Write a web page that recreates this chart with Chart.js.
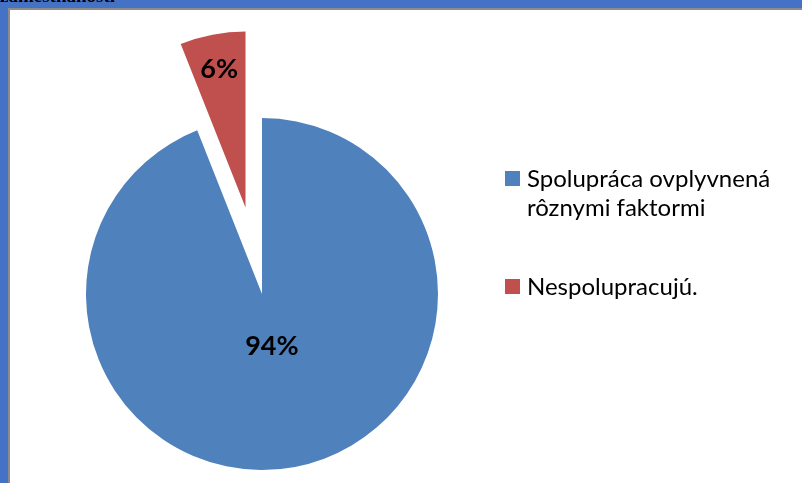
<!DOCTYPE html>
<html>
<head>
<meta charset="utf-8">
<script src="https://cdn.jsdelivr.net/npm/chart.js@4/dist/chart.umd.min.js"></script>
<style>
html,body{margin:0;padding:0;width:802px;height:483px;overflow:hidden;background:#fff;}
#top{position:absolute;left:0;top:-15px;font:bold 19px "Liberation Serif",serif;color:#000;white-space:nowrap;z-index:3;}
#wrap{position:absolute;left:0;top:0;width:802px;height:483px;z-index:2;}
#legend{position:absolute;left:505px;top:163px;z-index:4;font:24px Lato,"Open Sans",sans-serif;color:#000;}
#legend .item{position:relative;padding-left:22px;line-height:29px;margin-bottom:50px;white-space:nowrap;}
#legend .box{position:absolute;left:0;top:8px;width:15px;height:15px;}
</style>
</head>
<body>
<div id="top">zamestnanosti</div>
<div style="position:absolute;left:0;top:0;width:802px;height:483px;background:#4472C4;"></div>
<div style="position:absolute;left:8px;top:8px;width:794px;height:475px;background:#8c8c8c;"></div>
<div style="position:absolute;left:10px;top:10px;width:792px;height:473px;background:#fff;"></div>
<div id="wrap"><canvas id="pie"></canvas></div>
<div id="legend"></div>
<script>
/* ================= DATA ================= */
const labels=["Spolupráca ovplyvnená rôznymi faktormi","Nespolupracujú."];
const legendLines=[["Spolupráca ovplyvnená","rôznymi faktormi"],["Nespolupracujú."]];
const values=[94,6];
const colors=["#4F81BD","#C0504D"];
const explode=[0,88];          // px the slice is pulled out
const labelRadius=[0.30,0.8];  // label distance as part of radius

/* ================= EXPLODE + LABELS ================= */
// v4 "offset" also grows the arc, so pull the slice out by moving its centre
const explodePlugin={
id:"explode",
afterDatasetsUpdate(chart){
const meta=chart.getDatasetMeta(0);
meta.data.forEach((arc,i)=>{
const mid=(arc.startAngle+arc.endAngle)/2;
arc.x+=Math.cos(mid)*explode[i];
arc.y+=Math.sin(mid)*explode[i];
});
},
afterDatasetsDraw(chart){
const ctx=chart.ctx;
const meta=chart.getDatasetMeta(0);
const total=values.reduce((s,v)=>s+v,0);
ctx.save();
ctx.font="bold 27px Lato, 'Open Sans', sans-serif";
ctx.fillStyle="#000";
ctx.textAlign="center";
ctx.textBaseline="middle";
meta.data.forEach((arc,i)=>{
const mid=(arc.startAngle+arc.endAngle)/2;
const r=arc.outerRadius*labelRadius[i];
ctx.fillText(Math.round(values[i]/total*100)+"%",arc.x+Math.cos(mid)*r,arc.y+Math.sin(mid)*r);
});
ctx.restore();
}
};

/* ================= CHART ================= */
new Chart(document.getElementById("pie"),{
type:"pie",
data:{
labels,
datasets:[{
data:values,
backgroundColor:colors,
borderWidth:0,
clip:false
}]
},
options:{
responsive:true,
maintainAspectRatio:false,
animation:false,
layout:{padding:{left:86,top:118,right:364,bottom:13}},
plugins:{legend:{display:false},tooltip:{enabled:false}}
},
plugins:[explodePlugin]
});

/* ================= LEGEND ================= */
const lg=document.getElementById("legend");
labels.forEach((l,i)=>{
const d=document.createElement("div");
d.className="item";
d.innerHTML=`<span class="box" style="background:${colors[i]}"></span>`+legendLines[i].join("<br>");
lg.appendChild(d);
});
</script>
</body>
</html>
